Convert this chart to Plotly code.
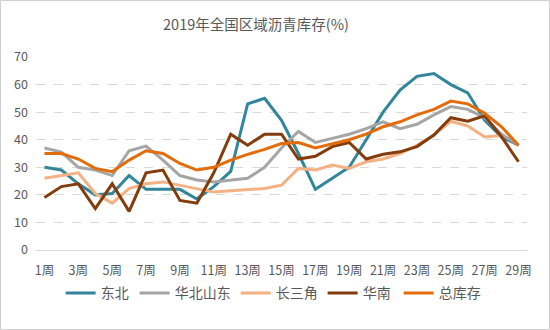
import plotly.graph_objects as go

weeks = [f"{i}周" for i in range(1, 30)]
tick_labels = [f"{i}周" for i in range(1, 30, 2)]

dongbei = [30, 29, 24, 20, 20.5, 27, 22, 22, 22, 18.5, 23, 28.5, 53, 55, 47, 35, 22, 26, 30, 40, 50, 58, 63, 64, 60, 57, 47, 41, 38]
huabei_sd = [37, 35.5, 30, 29, 27, 36, 37.7, 32.6, 27, 25.4, 24.7, 25.4, 26, 30, 37, 43, 39, 40.5, 42, 44, 46.5, 44, 45.6, 49, 52, 51, 48, 42, 38]
changsanjiao = [26, 27, 28, 20.5, 17, 22.3, 24, 24.7, 23.5, 22.3, 21, 21.5, 22, 22.3, 23.5, 29.6, 29, 30.8, 29.6, 32, 33, 35, 38, 41.7, 46.7, 45, 41, 41.5, None]
huanan = [19, 23, 24, 15, 24, 14, 28, 29, 18, 17, 28, 42, 38, 42, 42, 33, 34, 37.5, 39, 33, 34.7, 35.6, 37.5, 41.7, 48, 46.7, 48.7, 41, 32]
zong = [35, 35, 33, 29.6, 28.4, 32.6, 36, 35, 31.4, 29, 30, 32.6, 34.7, 36.5, 38.6, 39, 37, 38.6, 40, 42, 44.7, 46.5, 49, 51, 54, 53, 49.6, 44.7, 38]

series = [
    ("东北", dongbei, "#31869B", 29),
    ("华北山东", huabei_sd, "#A5A5A5", 56),
    ("长三角", changsanjiao, "#F4B183", 42),
    ("华南", huanan, "#843C0C", 31),
    ("总库存", zong, "#E46C0A", 44),
]

FONT = "Noto Sans CJK SC, Microsoft YaHei, sans-serif"

fig = go.Figure()
for name, vals, color, lw in series:
    fig.add_trace(go.Scatter(
        x=weeks, y=vals, name=name, mode="lines",
        line=dict(color=color, width=3),
        connectgaps=False, legendwidth=lw,
    ))

fig.update_layout(
    width=550, height=330,
    margin=dict(l=36, r=23, t=57, b=80),
    paper_bgcolor="white", plot_bgcolor="white",
    font=dict(family=FONT, size=12, color="#595959"),
    title=dict(text="2019年全国区域沥青库存(%)", xref="container", x=256 / 550, xanchor="center",
               yref="container", y=1 - 25 / 330, yanchor="middle",
               font=dict(size=14.5, color="#595959", family=FONT)),
    showlegend=True,
    legend=dict(orientation="h", x=0.485, xanchor="center", y=-0.225, yanchor="middle",
                font=dict(size=14, color="#595959", family=FONT),
                itemwidth=30, tracegroupgap=0, bgcolor="rgba(0,0,0,0)"),
    xaxis=dict(
        type="category", categoryorder="array", categoryarray=weeks,
        tickmode="array", tickvals=tick_labels, ticktext=tick_labels,
        range=[-0.5, 28.5], showgrid=False, zeroline=False,
        showline=True, linecolor="#D9D9D9", linewidth=1,
        ticks="", ticklabelstandoff=9,
        tickfont=dict(size=12.5, color="#595959", family=FONT),
    ),
    yaxis=dict(
        range=[0, 70], tickvals=[0, 10, 20, 30, 40, 50, 60, 70],
        showgrid=True, gridcolor="#D9D9D9", griddash="dash", gridwidth=1,
        zeroline=False, showline=False, ticks="", ticklabelstandoff=7,
        tickfont=dict(size=12.5, color="#595959", family=FONT),
    ),
    shapes=[dict(type="rect", xref="paper", yref="paper",
                 x0=-35.5 / 491, x1=1 + 22.5 / 491,
                 y0=-79.5 / 193, y1=1 + 56.5 / 193,
                 line=dict(color="#D0D0D0", width=1), fillcolor="rgba(0,0,0,0)",
                 layer="below")],
)

fig.write_html("out.html")
